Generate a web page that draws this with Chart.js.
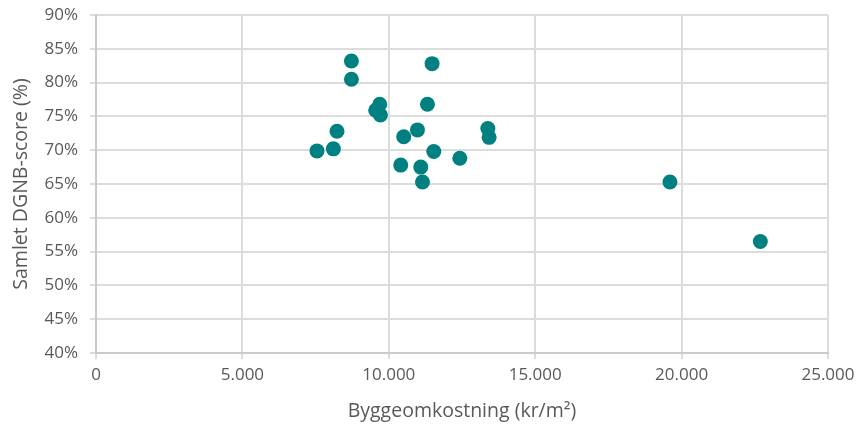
<!DOCTYPE html>
<html>
<head>
<meta charset="utf-8">
<script src="https://cdn.jsdelivr.net/npm/chart.js@4/dist/chart.umd.min.js"></script>
<style>
  html, body { margin: 0; padding: 0; background: #ffffff; }
  #wrap { width: 861px; height: 430px; }
</style>
</head>
<body>
<div id="wrap"><canvas id="c" width="861" height="430"></canvas></div>
<script>
// Building cost per m² and overall DGNB score for each project
const buildCost = [8723, 8723, 11478, 9690, 9553, 9714, 11320, 8231, 7547, 8107,
                   10979, 10510, 13382, 13426, 11536, 12425, 10408, 11092, 11150, 19602, 22689];
const dgnbScore = [83.2, 80.5, 82.8, 76.8, 75.9, 75.2, 76.8, 72.8, 69.9, 70.2,
                   73.0, 72.0, 73.2, 71.9, 69.8, 68.8, 67.8, 67.5, 65.3, 65.3, 56.5];

const xTicks = [0, 5000, 10000, 15000, 20000, 25000];
const yTicks = [40, 45, 50, 55, 60, 65, 70, 75, 80, 85, 90];

const points = buildCost.map((x, i) => ({ x: x, y: dgnbScore[i] }));

const textColor = '#595959';
const gridColor = '#dcdcdc';
const axisColor = '#cacaca';
const fontFamily = '"Open Sans", "Liberation Sans", sans-serif';

// Danish thousands separator: 25000 -> 25.000
function fmtThousands(v) {
  return String(Math.round(v)).replace(/\B(?=(\d{3})+(?!\d))/g, '.');
}

new Chart(document.getElementById('c'), {
  type: 'scatter',
  data: {
    datasets: [{
      data: points,
      backgroundColor: '#008080',
      borderColor: '#008080',
      borderWidth: 0,
      pointRadius: 7.5,
      pointHoverRadius: 7.5
    }]
  },
  options: {
    responsive: false,
    animation: false,
    layout: { padding: { top: 15, right: 33, left: 0, bottom: 0 } },
    plugins: { legend: { display: false }, tooltip: { enabled: false } },
    scales: {
      x: {
        type: 'linear',
        min: xTicks[0],
        max: xTicks[xTicks.length - 1],
        afterBuildTicks: s => { s.ticks = xTicks.map(v => ({ value: v })); },
        afterFit: s => { s.height = 77; s.paddingLeft = 0; s.paddingRight = 0; },
        grid: { color: gridColor, lineWidth: 2, tickLength: 6, drawTicks: true },
        border: { color: axisColor, width: 2 },
        ticks: {
          color: textColor,
          font: { family: fontFamily, size: 17 },
          padding: 6,
          maxRotation: 0,
          callback: v => fmtThousands(v)
        },
        title: {
          display: true,
          text: 'Byggeomkostning (kr/m²)',
          color: textColor,
          font: { family: fontFamily, size: 19.5 },
          padding: { top: 7, bottom: 7 }
        }
      },
      y: {
        type: 'linear',
        min: yTicks[0],
        max: yTicks[yTicks.length - 1],
        afterBuildTicks: s => { s.ticks = yTicks.map(v => ({ value: v })); },
        afterFit: s => { s.width = 96; s.paddingTop = 0; s.paddingBottom = 0; },
        grid: { color: gridColor, lineWidth: 2, tickLength: 6, drawTicks: true },
        border: { color: axisColor, width: 2 },
        ticks: {
          color: textColor,
          font: { family: fontFamily, size: 17 },
          padding: 12,
          callback: v => v + '%'
        },
        title: {
          display: true,
          text: 'Samlet DGNB-score (%)',
          color: textColor,
          font: { family: fontFamily, size: 19.5 },
          padding: { top: 10, bottom: 10 }
        }
      }
    }
  }
});
</script>
</body>
</html>
